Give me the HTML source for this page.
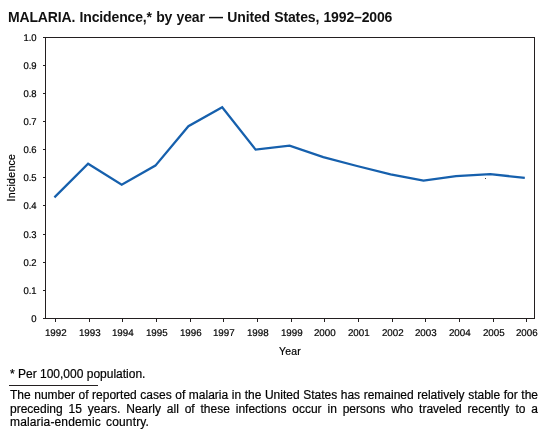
<!DOCTYPE html>
<html><head><meta charset="utf-8">
<style>
html,body{margin:0;padding:0;background:#fff;}
body{width:549px;height:436px;position:relative;overflow:hidden;font-family:"Liberation Sans",sans-serif;color:#000;}
.ga{will-change:transform;-webkit-text-stroke:0.2px #000;}
#title{position:absolute;left:8px;top:9px;font-weight:bold;font-size:14px;letter-spacing:-0.15px;word-spacing:0.6px;line-height:17px;white-space:nowrap;-webkit-text-stroke:0;color:#111;}
svg{position:absolute;left:0;top:0;}
#fn{position:absolute;left:10px;top:367px;font-size:12px;line-height:15px;white-space:nowrap;}
#rule{position:absolute;left:9px;top:385px;width:89px;height:1px;background:#231f20;}
.pl{position:absolute;left:10px;width:528px;font-size:12px;line-height:14px;white-space:nowrap;}
.j{text-align:justify;text-align-last:justify;}
</style></head><body>
<svg width="549" height="436" viewBox="0 0 549 436">
<g stroke="#231f20" stroke-width="1" fill="none">
<rect x="45.5" y="37.5" width="489" height="281"/>
<line x1="43" y1="318.5" x2="45.5" y2="318.5"/>
<line x1="43" y1="290.5" x2="45.5" y2="290.5"/>
<line x1="43" y1="262.5" x2="45.5" y2="262.5"/>
<line x1="43" y1="234.5" x2="45.5" y2="234.5"/>
<line x1="43" y1="205.5" x2="45.5" y2="205.5"/>
<line x1="43" y1="177.5" x2="45.5" y2="177.5"/>
<line x1="43" y1="149.5" x2="45.5" y2="149.5"/>
<line x1="43" y1="121.5" x2="45.5" y2="121.5"/>
<line x1="43" y1="93.5" x2="45.5" y2="93.5"/>
<line x1="43" y1="65.5" x2="45.5" y2="65.5"/>
<line x1="43" y1="37.5" x2="45.5" y2="37.5"/>
<line x1="55.5" y1="318.5" x2="55.5" y2="322"/>
<line x1="89.5" y1="318.5" x2="89.5" y2="322"/>
<line x1="122.5" y1="318.5" x2="122.5" y2="322"/>
<line x1="156.5" y1="318.5" x2="156.5" y2="322"/>
<line x1="190.5" y1="318.5" x2="190.5" y2="322"/>
<line x1="223.5" y1="318.5" x2="223.5" y2="322"/>
<line x1="257.5" y1="318.5" x2="257.5" y2="322"/>
<line x1="291.5" y1="318.5" x2="291.5" y2="322"/>
<line x1="324.5" y1="318.5" x2="324.5" y2="322"/>
<line x1="358.5" y1="318.5" x2="358.5" y2="322"/>
<line x1="392.5" y1="318.5" x2="392.5" y2="322"/>
<line x1="425.5" y1="318.5" x2="425.5" y2="322"/>
<line x1="459.5" y1="318.5" x2="459.5" y2="322"/>
<line x1="493.5" y1="318.5" x2="493.5" y2="322"/>
<line x1="526.5" y1="318.5" x2="526.5" y2="322"/>

</g>
<polyline points="54.40,197.40 88.10,163.80 121.70,184.70 155.40,165.60 188.40,126.20 222.20,107.30 255.60,149.60 289.60,145.60 323.30,157.10 357.00,166.00 390.60,174.40 423.50,180.70 456.00,176.10 490.30,174.20 524.80,177.80" fill="none" stroke="#1660ad" stroke-width="2.25" stroke-linejoin="miter"/>
<rect x="485" y="178" width="1" height="1" fill="#444"/>
</svg>
<svg class="ga" width="549" height="436" viewBox="0 0 549 436">
<g font-family="Liberation Sans" font-size="9.8" fill="#000" stroke="#000" stroke-width="0.2" text-rendering="geometricPrecision">
<text transform="translate(36.6,321.90) scale(0.97,1)" text-anchor="end">0</text>
<text transform="translate(36.6,293.90) scale(0.97,1)" text-anchor="end">0.1</text>
<text transform="translate(36.6,265.90) scale(0.97,1)" text-anchor="end">0.2</text>
<text transform="translate(36.6,237.90) scale(0.97,1)" text-anchor="end">0.3</text>
<text transform="translate(36.6,208.90) scale(0.97,1)" text-anchor="end">0.4</text>
<text transform="translate(36.6,180.90) scale(0.97,1)" text-anchor="end">0.5</text>
<text transform="translate(36.6,152.90) scale(0.97,1)" text-anchor="end">0.6</text>
<text transform="translate(36.6,124.90) scale(0.97,1)" text-anchor="end">0.7</text>
<text transform="translate(36.6,96.90) scale(0.97,1)" text-anchor="end">0.8</text>
<text transform="translate(36.6,68.90) scale(0.97,1)" text-anchor="end">0.9</text>
<text transform="translate(36.6,40.90) scale(0.97,1)" text-anchor="end">1.0</text>
<text transform="translate(55.80,336) scale(1,1)" text-anchor="middle">1992</text>
<text transform="translate(89.80,336) scale(1,1)" text-anchor="middle">1993</text>
<text transform="translate(122.80,336) scale(1,1)" text-anchor="middle">1994</text>
<text transform="translate(156.80,336) scale(1,1)" text-anchor="middle">1995</text>
<text transform="translate(190.80,336) scale(1,1)" text-anchor="middle">1996</text>
<text transform="translate(223.80,336) scale(1,1)" text-anchor="middle">1997</text>
<text transform="translate(257.80,336) scale(1,1)" text-anchor="middle">1998</text>
<text transform="translate(291.80,336) scale(1,1)" text-anchor="middle">1999</text>
<text transform="translate(324.80,336) scale(1,1)" text-anchor="middle">2000</text>
<text transform="translate(358.80,336) scale(1,1)" text-anchor="middle">2001</text>
<text transform="translate(392.80,336) scale(1,1)" text-anchor="middle">2002</text>
<text transform="translate(425.80,336) scale(1,1)" text-anchor="middle">2003</text>
<text transform="translate(459.80,336) scale(1,1)" text-anchor="middle">2004</text>
<text transform="translate(493.80,336) scale(1,1)" text-anchor="middle">2005</text>
<text transform="translate(526.80,336) scale(1,1)" text-anchor="middle">2006</text>

</g>
<text x="290" y="354.7" font-family="Liberation Sans" font-size="10.4" letter-spacing="0.25" fill="#000" stroke="#000" stroke-width="0.2" text-anchor="middle">Year</text>
<text transform="translate(14.8,177.6) rotate(-90)" font-family="Liberation Sans" font-size="10.5" letter-spacing="0.3" fill="#000" stroke="#000" stroke-width="0.2" text-anchor="middle">Incidence</text>
</svg>
<div id="title" class="ga">MALARIA. Incidence,* by year — United States, 1992–2006</div>
<div id="fn" class="ga">* Per 100,000 population.</div>
<div id="rule"></div>
<div class="pl j ga" style="top:388px">The number of reported cases of malaria in the United States has remained relatively stable for the</div>
<div class="pl j ga" style="top:401.5px">preceding 15 years. Nearly all of these infections occur in persons who traveled recently to a</div>
<div class="pl ga" style="top:415px;letter-spacing:0.15px;word-spacing:1.6px">malaria-endemic country.</div>
</body></html>
